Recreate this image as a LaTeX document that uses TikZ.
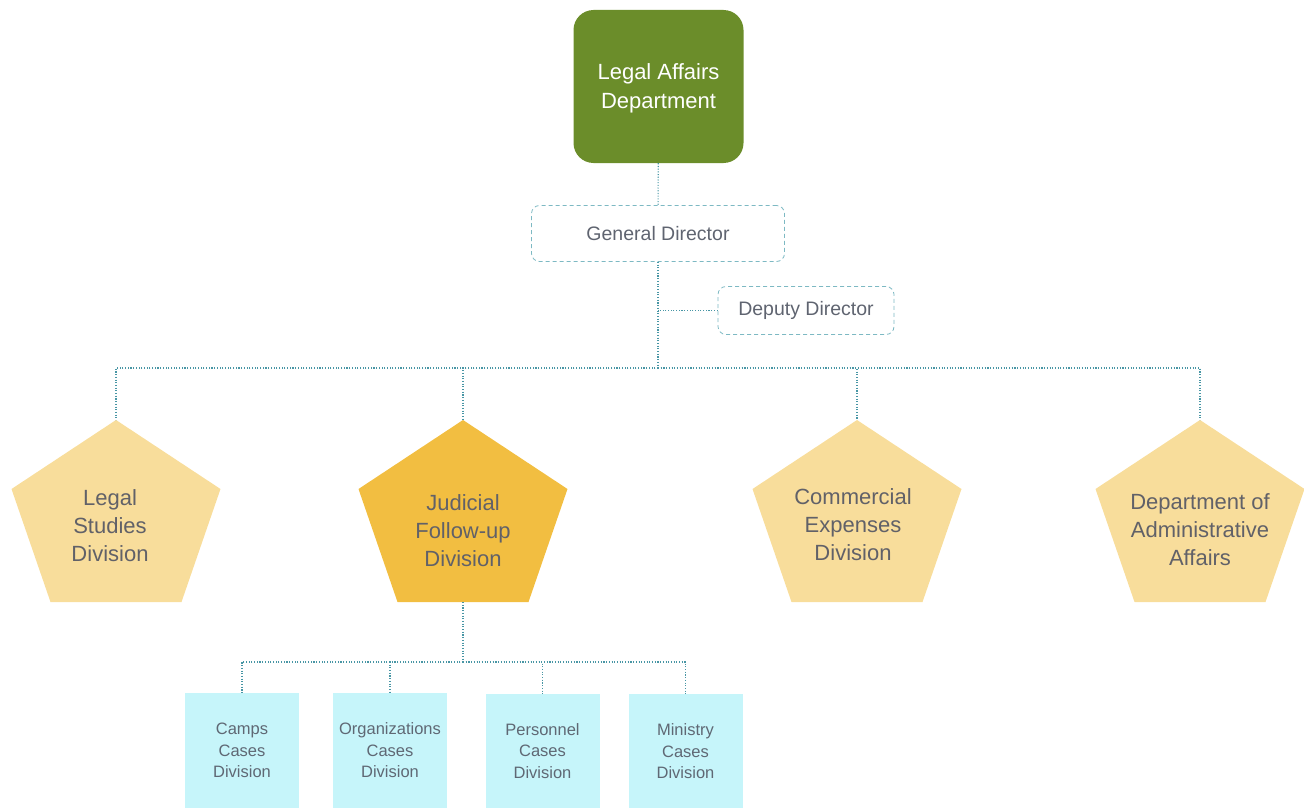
\documentclass[tikz,border=0pt]{standalone}
\usepackage{fontspec}
\setmainfont{Liberation Sans}
\usetikzlibrary{calc}

\definecolor{deptgreen}{RGB}{107,141,42}
\definecolor{linkteal}{RGB}{72,150,165}
\definecolor{boxteal}{RGB}{125,185,195}
\definecolor{dirtext}{RGB}{95,100,112}
\definecolor{palegold}{RGB}{248,221,155}
\definecolor{gold}{RGB}{242,190,65}
\definecolor{divtext}{RGB}{97,97,104}
\definecolor{casecyan}{RGB}{198,245,250}
\definecolor{casetext}{RGB}{95,104,116}

% pentagon with its apex at (#2,420); #1 names the apex, #3 is the fill style
\newcommand{\pentagon}[3]{%
  \fill[#3] (#2,420) coordinate (#1) -- ++(104.5,69) -- ++(-39,113)
    -- ++(-131,0) -- ++(-39,-113) -- cycle;
  \coordinate (#1-base) at (#2,602);}

\begin{document}
\begin{tikzpicture}[x=1pt, y=-1pt,
    dept/.style={fill=deptgreen, text=white, rounded corners=20,
      minimum width=170, minimum height=153, align=center, text depth=0pt,
      font=\fontsize{22}{29}\selectfont},
    director/.style={draw=boxteal, dash pattern=on 4pt off 3pt, line width=0.8pt,
      rounded corners=8, text=dirtext, font=\fontsize{19.5}{24}\selectfont},
    penta/.style={fill=palegold},
    pentahi/.style={fill=gold},
    divlabel/.style={text=divtext, align=center, font=\fontsize{22}{28}\selectfont},
    casebox/.style={fill=casecyan, text=casetext, align=center,
      minimum width=114, minimum height=115,
      font=\fontsize{16.5}{21.5}\selectfont},
    link/.style={draw=linkteal, line width=1.1pt, dash pattern=on 1.1pt off 1.6pt}]
  \useasboundingbox (0,0) rectangle (1304,808);

  % head of the department and its directors
  \node[dept] (legal-affairs) at (658.5,86.5) {Legal Affairs\\Department};
  \node[director, minimum width=253, minimum height=56] (general) at (658,233.5) {General Director};
  \node[director, minimum width=176, minimum height=48] (deputy) at (806,310.5) {Deputy Director};
  \coordinate (bus) at (658,368);

  % divisions
  \pentagon{legal}{116}{penta}
  \pentagon{judicial}{463}{pentahi}
  \pentagon{commercial}{857}{penta}
  \pentagon{admin}{1200}{penta}
  \node[divlabel] (legal-txt) at (110,526) {Legal\\Studies\\Division};
  \node[divlabel] (judicial-txt) at (463,531) {Judicial\\Follow-up\\Division};
  \node[divlabel] (commercial-txt) at (853,525) {Commercial\\Expenses\\Division};
  \node[divlabel] (admin-txt) at (1200,530) {Department of\\Administrative\\Affairs};

  % case divisions under judicial follow-up
  \node[casebox] (camps) at (242,750.5) {Camps\\Cases\\Division};
  \node[casebox] (organizations) at (390,750.5) {Organizations\\Cases\\Division};
  \node[casebox] (personnel) at (542.5,751) {Personnel\\Cases\\Division};
  \node[casebox] (ministry) at (685.5,751.5) {Ministry\\Cases\\Division};
  \coordinate (case-bus) at (463,662);

  \draw[link] (legal-affairs) -- (general);
  \draw[link] (general) -- (bus);
  \draw[link] (deputy.west) -- (deputy.west -| bus);
  \draw[link] (bus) -| (legal);
  \draw[link] (bus) -| (judicial);
  \draw[link] (bus) -| (commercial);
  \draw[link] (bus) -| (admin);
  \draw[link] (judicial-base) -- (case-bus);
  \draw[link] (case-bus) -| (camps);
  \draw[link] (case-bus) -| (organizations);
  \draw[link] (case-bus) -| (personnel);
  \draw[link] (case-bus) -| (ministry);
\end{tikzpicture}
\end{document}
